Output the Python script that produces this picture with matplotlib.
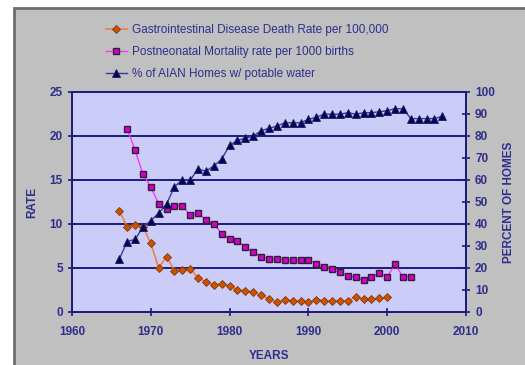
import matplotlib.pyplot as plt
from matplotlib.patches import Rectangle

# data
gi_years = list(range(1966, 2001))
gi_rate = [11.5, 9.7, 9.9, 9.7, 7.8, 5.0, 6.3, 4.7, 4.8, 4.9,
           3.9, 3.4, 3.1, 3.2, 3.0, 2.5, 2.4, 2.3, 1.9, 1.5,
           1.1, 1.4, 1.25, 1.2, 1.1, 1.4, 1.3, 1.25, 1.3, 1.3,
           1.7, 1.45, 1.45, 1.55, 1.65]

pn_years = list(range(1967, 2004))
pn_rate = [20.8, 18.4, 15.7, 14.2, 12.3, 11.7, 12.1, 12.1, 11.0, 11.2,
           10.5, 10.0, 8.9, 8.3, 8.1, 7.35, 6.85, 6.3, 6.0, 6.0,
           5.9, 5.9, 5.9, 5.9, 5.5, 5.1, 4.85, 4.55, 4.1, 3.95,
           3.6, 3.95, 4.4, 4.0, 5.4, 4.0, 4.0]

water_years = list(range(1966, 2008))
water_pct = [24, 32, 33, 38.5, 41.5, 45, 49, 57, 60, 60,
             65, 64, 66.4, 69.5, 75.8, 78, 79, 80, 82.4, 83.5,
             84.5, 86, 86, 86, 87.6, 88.5, 89.9, 89.9, 89.9, 90.6,
             89.9, 90.6, 90.6, 91, 91.5, 92.4, 92.4, 87.9, 87.9, 87.9,
             87.9, 89]

labels = ["Gastrointestinal Disease Death Rate per 100,000",
          "Postneonatal Mortality rate per 1000 births",
          "% of AIAN Homes w/ potable water"]

navy = "#1c1c80"
txt = "#2e2e8c"

plt.rcParams['font.family'] = ['Liberation Sans', 'DejaVu Sans']

fig = plt.figure(figsize=(5.25, 3.65), dpi=100)
fig.patch.set_facecolor("white")
# grey chart frame
fig.patches.append(Rectangle((14 / 525, -0.01), 1, 1.01 - 8 / 365, transform=fig.transFigure,
                             facecolor="#c0c0c0", edgecolor="#6e6e6e", linewidth=2.0, zorder=-10))

ax = fig.add_axes([72 / 525, 1 - 312 / 365, (466 - 72) / 525, (312 - 92) / 365])
ax.set_facecolor("#ccccf8")
ax.set_xlim(1960, 2010)
ax.set_ylim(0, 25)
ax.set_xticks(range(1960, 2011, 10))
ax.set_yticks(range(0, 26, 5))
for y in range(5, 25, 5):
    ax.axhline(y, color=navy, linewidth=1.4, zorder=1)

l1, = ax.plot(gi_years, gi_rate, color="#f08040", linewidth=1.2, marker="D", markersize=3.8,
              markerfacecolor="#d05000", markeredgecolor="#7a3a10", markeredgewidth=0.6, zorder=3)
l2, = ax.plot(pn_years, pn_rate, color="#ff33ff", linewidth=1.0, marker="s", markersize=4.2,
              markerfacecolor="#d000d0", markeredgecolor="#302030", markeredgewidth=1.0, zorder=3)

ax2 = ax.twinx()
ax2.set_ylim(0, 100)
ax2.set_yticks(range(0, 101, 10))
l3, = ax2.plot(water_years, water_pct, color="#3a3aa0", linewidth=1.0, marker="^", markersize=5.5,
               markerfacecolor="#000070", markeredgecolor="#202040", markeredgewidth=0.6, zorder=3)

for a in (ax, ax2):
    for s in a.spines.values():
        s.set_color(navy)
        s.set_linewidth(1.4)
    a.tick_params(colors=navy, labelcolor=txt, labelsize=8.5, direction="inout", length=6, width=1.2)
for lab in ax.get_xticklabels() + ax.get_yticklabels() + ax2.get_yticklabels():
    lab.set_fontweight("bold")
ax.tick_params(axis="x", pad=7)

ax.set_xlabel("YEARS", color=txt, fontsize=8.5, fontweight="bold", labelpad=9)
ax.set_ylabel("RATE", color=txt, fontsize=8.5, fontweight="bold", labelpad=8)
ax2.set_ylabel("PERCENT OF HOMES", color=txt, fontsize=8.5, fontweight="bold", labelpad=6)

fig.legend([l1, l2, l3], labels, loc="upper left", bbox_to_anchor=(101 / 525, 1 - 19 / 365),
           frameon=False, fontsize=8.5, labelcolor=txt, handlelength=1.8, handletextpad=0.4,
           labelspacing=0.85, borderaxespad=0)

fig.savefig("out.png", dpi=100)
